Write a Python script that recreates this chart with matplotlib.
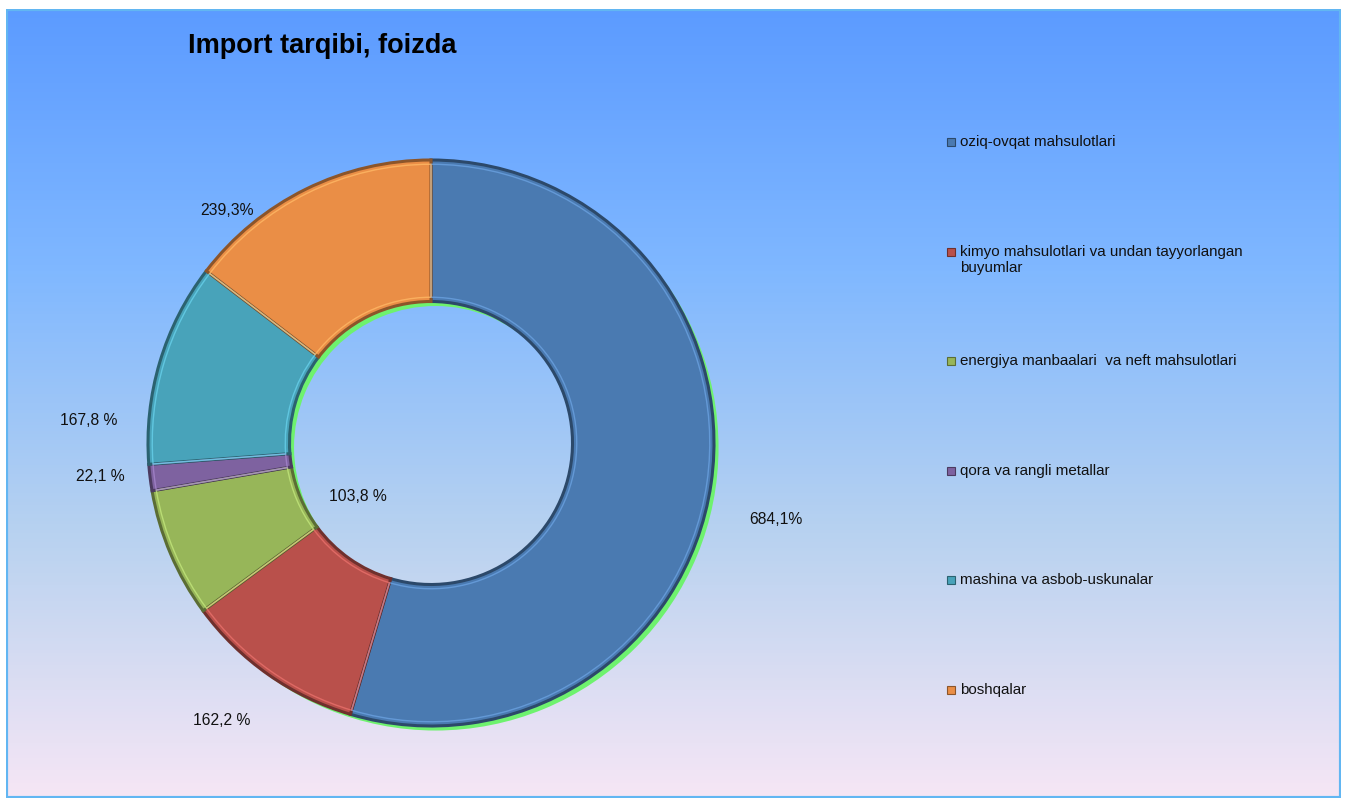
"""Import structure donut chart (shares by commodity group)."""

import matplotlib.pyplot as plt
import numpy as np
from matplotlib.colors import LinearSegmentedColormap, to_rgb
from matplotlib.patches import Rectangle

plt.rcParams["font.family"] = ["Liberation Sans", "DejaVu Sans"]

TITLE = "Import tarqibi, foizda"

categories = [
    "oziq-ovqat mahsulotlari",
    "kimyo mahsulotlari va undan tayyorlangan\nbuyumlar",
    "energiya manbaalari  va neft mahsulotlari",
    "qora va rangli metallar",
    "mashina va asbob-uskunalar",
    "boshqalar",
]
# slice sizes as drawn (share of total, %)
shares = [54.6, 10.3, 7.4, 1.5, 11.6, 14.6]
# value labels printed on the chart
value_labels = ["684,1%", "162,2 %", "103,8 %", "22,1 %", "167,8 %", "239,3%"]

colors = ["#4a7ab1", "#b9504b", "#97b659", "#7e62a0", "#48a3ba", "#ea8e46"]
# label positions in pie units (centre 0,0, radius 1)
label_xy = [(1.22, -0.27), (-0.74, -0.98), (-0.26, -0.19),
            (-1.17, -0.12), (-1.21, 0.08), (-0.72, 0.82)]

W, H = 1347, 798
fig = plt.figure(figsize=(W / 100, H / 100), dpi=100)
fig.patch.set_facecolor("white")

# gradient background panel
bg = fig.add_axes([6 / W, 0, (1341 - 6) / W, (H - 9) / H])
grad = LinearSegmentedColormap.from_list(
    "bg", ["#5c9bff", "#80b8ff", "#b8d2f0", "#f6e6f5"])
bg.imshow(np.linspace(0, 1, 256).reshape(-1, 1), aspect="auto", cmap=grad,
          extent=(0, 1, 0, 1), origin="upper")
bg.add_patch(Rectangle((0, 0), 1, 1, transform=bg.transAxes, fill=False,
                       edgecolor="#62b6f2", linewidth=3))
bg.set_axis_off()

# donut axes: centre (431, 443) px, radius 283 px
k = 1.6
cx, cy, r = 431 / W, 1 - 443 / H, 283
ax = fig.add_axes([cx - k * r / W, cy - k * r / H, 2 * k * r / W, 2 * k * r / H])

# green glow/shadow behind the ring, shifted down-right
ax.pie([1], radius=1.0, center=(0.016, -0.016), colors=["#6ef26e"],
       wedgeprops=dict(width=0.5, linewidth=0))

edge = [tuple(c * 0.6 for c in to_rgb(col)) for col in colors]
wedges, _ = ax.pie(shares, colors=colors, startangle=90, counterclock=False,
                   radius=1.0, wedgeprops=dict(width=0.5, linewidth=2.2))
for w, e in zip(wedges, edge):
    w.set_edgecolor(e)

# lighter inner stroke for a bevel look
inner, _ = ax.pie(shares, colors=["none"] * len(shares), startangle=90,
                  counterclock=False, radius=0.985,
                  wedgeprops=dict(width=0.47, linewidth=1.0))
for w, col in zip(inner, colors):
    w.set_edgecolor(tuple(min(1, c * 1.15 + 0.08) for c in to_rgb(col)))
    w.set_alpha(0.8)

for txt, (x, y) in zip(value_labels, label_xy):
    ax.text(x, y, txt, ha="center", va="center", fontsize=11.3, color="#111111")

ax.set_xlim(-k, k)
ax.set_ylim(-k, k)
ax.set_aspect("equal")
ax.set_axis_off()

fig.text(188 / W, 1 - 46 / H, TITLE, fontsize=19.5, fontweight="bold",
         ha="left", va="center", color="black")

# legend, drawn by hand to keep Excel's even spacing
for i, (name, col) in enumerate(zip(categories, colors)):
    ypx = 142 + 109.6 * i
    fig.patches.append(Rectangle((947 / W, 1 - (ypx + 4) / H), 8 / W, 8 / H,
                                 transform=fig.transFigure, facecolor=col,
                                 edgecolor=tuple(c * 0.6 for c in to_rgb(col)),
                                 linewidth=0.8))
    fig.text(960 / W, 1 - (ypx - 7) / H, name, fontsize=10.9, ha="left",
             va="top", color="#111111", linespacing=1.2)

fig.savefig("out.png", dpi=100)
